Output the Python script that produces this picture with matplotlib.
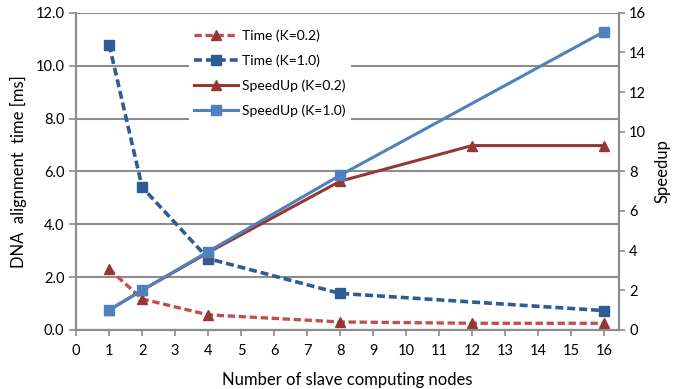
import matplotlib
matplotlib.use("Agg")
import matplotlib.pyplot as plt

nodes = [1, 2, 4, 8, 12, 16]
time_k02 = [2.3, 1.17, 0.57, 0.3, 0.25, 0.25]
nodes_k10 = [1, 2, 4, 8, 16]
time_k10 = [10.8, 5.4, 2.7, 1.38, 0.73]
speed_k02 = [1.0, 2.0, 3.9, 7.5, 9.3, 9.3]
speed_k10 = [1.0, 2.0, 3.95, 7.8, 15.05]
xticks = list(range(0, 17))

plt.rcParams['font.family'] = ['Lato', 'DejaVu Sans']

fig = plt.figure(figsize=(6.86, 3.89), dpi=100)
ax = fig.add_axes([0.111, 0.152, 0.791, 0.815])
ax2 = ax.twinx()

gc = '#8c8c8c'
ax.set_xlim(0, 16.45)
ax.set_ylim(0, 12)
ax.set_yticks([0, 2, 4, 6, 8, 10, 12])
ax.set_yticklabels([f"{v:.1f}" for v in [0, 2, 4, 6, 8, 10, 12]])
ax.set_xticks(xticks)
ax.grid(axis='y', color=gc, linewidth=1.5)
ax.set_axisbelow(True)
ax2.set_ylim(0, 16)
ax2.set_yticks(range(0, 17, 2))

for a in (ax, ax2):
    for s in a.spines.values():
        s.set_color(gc)
        s.set_linewidth(1.5)
    a.spines['top'].set_visible(False)
    a.tick_params(colors=gc, labelcolor='black', labelsize=10.5, width=1.2, length=4)

ax.tick_params(axis='y', length=5, direction='out')
ax.tick_params(axis='x', pad=6)

dash = (2.2, 1.1)
l1, = ax.plot(nodes, time_k02, linestyle=(0, dash), color='#C0504D', marker='^', markersize=7,
              markerfacecolor='#953735', markeredgecolor='#953735', linewidth=2.4, label='Time (K=0.2)')
l2, = ax.plot(nodes_k10, time_k10, linestyle=(0, dash), color='#2E5C96', marker='s', markersize=6.5,
              linewidth=2.6, label='Time (K=1.0)')
l3, = ax2.plot(nodes, speed_k02, linestyle='-', color='#953735', marker='^', markersize=7,
               linewidth=2.2, label='SpeedUp (K=0.2)')
l4, = ax2.plot(nodes_k10, speed_k10, linestyle='-', color='#4F81BD', marker='s', markersize=7.5,
               linewidth=2.2, label='SpeedUp (K=1.0)')

ax.set_xlabel('Number of slave computing nodes', fontsize=12, labelpad=10)
ax.set_ylabel('DNA  alignment  time [ms]', fontsize=12, labelpad=6)
ax2.set_ylabel('Speedup', fontsize=12, labelpad=6)

leg = ax2.legend(handles=[l1, l2, l3, l4], loc='upper left', bbox_to_anchor=(0.195, 0.985),
                 frameon=True, fontsize=10, handlelength=3.2, borderpad=0.35, labelspacing=0.9,
                 handletextpad=0.3)
leg.get_frame().set_edgecolor('none')
leg.get_frame().set_facecolor('white')
leg.get_frame().set_alpha(1)

fig.savefig('out.png', dpi=100)
